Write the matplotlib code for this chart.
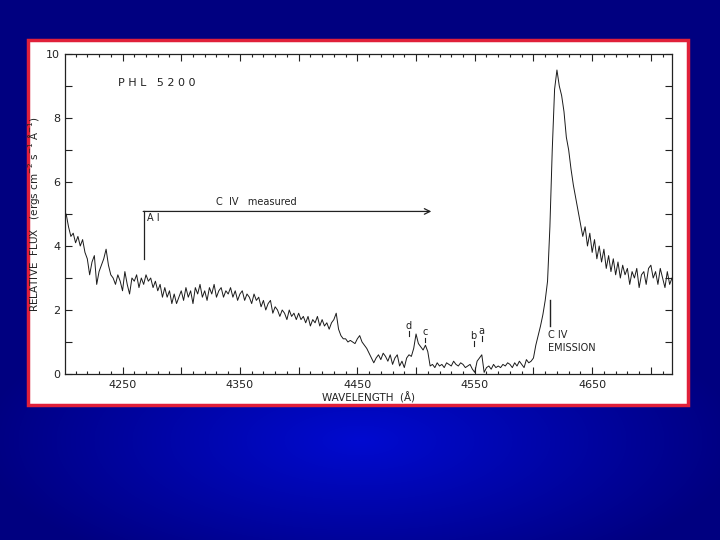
import numpy as np
import matplotlib
matplotlib.use("Agg")
import matplotlib.pyplot as plt
from matplotlib.patches import Rectangle
from matplotlib.ticker import MultipleLocator, FuncFormatter

# ---- data ----
wave_start = 4200
wave_step = 2
flux = [
    4.9, 5.0, 4.6, 4.3, 4.4, 4.1, 4.3, 4.0, 4.2, 3.8,
    3.6, 3.1, 3.5, 3.7, 2.8, 3.2, 3.4, 3.6, 3.9, 3.4,
    3.1, 3.0, 2.8, 3.1, 2.9, 2.6, 3.2, 2.8, 2.5, 3.0,
    2.9, 3.1, 2.7, 3.0, 2.8, 3.1, 2.9, 3.0, 2.7, 2.9,
    2.6, 2.8, 2.4, 2.7, 2.4, 2.6, 2.2, 2.5, 2.2, 2.4,
    2.6, 2.3, 2.7, 2.4, 2.6, 2.2, 2.7, 2.5, 2.8, 2.4,
    2.6, 2.3, 2.7, 2.5, 2.8, 2.4, 2.6, 2.7, 2.4, 2.6,
    2.5, 2.7, 2.4, 2.6, 2.3, 2.5, 2.6, 2.3, 2.5, 2.4,
    2.2, 2.5, 2.3, 2.4, 2.1, 2.3, 2.0, 2.2, 2.3, 1.9,
    2.1, 2.0, 1.8, 2.0, 1.9, 1.7, 2.0, 1.8, 1.9, 1.7,
    1.9, 1.7, 1.8, 1.6, 1.8, 1.5, 1.7, 1.6, 1.8, 1.5,
    1.7, 1.5, 1.6, 1.4, 1.6, 1.7, 1.9, 1.4, 1.2, 1.1,
    1.1, 1.0, 1.05, 1.0, 0.95, 1.1, 1.2, 1.0, 0.9, 0.8,
    0.65, 0.5, 0.35, 0.5, 0.6, 0.45, 0.65, 0.55, 0.4, 0.6,
    0.3, 0.5, 0.6, 0.25, 0.4, 0.2, 0.5, 0.6, 0.55, 0.8,
    1.25, 0.95, 0.85, 0.75, 0.9, 0.7, 0.25, 0.3, 0.2, 0.35,
    0.25, 0.3, 0.2, 0.35, 0.3, 0.25, 0.4, 0.3, 0.25, 0.35,
    0.3, 0.2, 0.25, 0.3, 0.15, 0.05, 0.4, 0.5, 0.6, 0.05,
    0.2, 0.25, 0.15, 0.3, 0.2, 0.25, 0.2, 0.3, 0.25, 0.35,
    0.3, 0.2, 0.35, 0.25, 0.4, 0.3, 0.2, 0.45, 0.35, 0.4,
    0.5, 0.9, 1.2, 1.5, 1.85, 2.3, 2.9, 4.6, 7.0, 8.9,
    9.5, 9.0, 8.7, 8.2, 7.4, 7.0, 6.4, 5.9, 5.5, 5.1,
    4.7, 4.3, 4.6, 4.0, 4.4, 3.8, 4.2, 3.6, 4.0, 3.5,
    3.9, 3.3, 3.7, 3.2, 3.6, 3.1, 3.5, 3.0, 3.4, 3.1,
    3.3, 2.8, 3.2, 3.0, 3.3, 2.7, 3.1, 3.2, 2.8, 3.3,
    3.4, 3.0, 3.2, 2.8, 3.3, 3.0, 2.7, 3.2, 2.8, 3.0,
]
wavelength = wave_start + wave_step * np.arange(len(flux))

line_ids = ["d", "c", "b", "a"]
line_wave = [4494, 4508, 4549, 4556]
line_label_y = [1.5, 1.31, 1.2, 1.35]

# ---- figure ----
fig = plt.figure(figsize=(7.2, 5.4), dpi=100)

# slide background: blue gradient
bg = fig.add_axes([0, 0, 1, 1], zorder=0)
yy, xx = np.mgrid[0:540, 0:720]
r = np.sqrt(((xx - 360) / 380.0) ** 2 + ((yy - 440) / 150.0) ** 2)
t = np.clip(1 - r, 0, 1)
img = np.zeros((540, 720, 3))
img[..., 2] = (128 + 80 * t) / 255.0
img[..., 1] = (0 + 10 * t) / 255.0
bg.imshow(img, aspect="auto", extent=[0, 1, 0, 1], origin="upper")
bg.set_xlim(0, 1)
bg.set_ylim(0, 1)
bg.set_axis_off()

# white panel with red border
panel = Rectangle((28 / 720, 1 - 405 / 540), 660 / 720, 365 / 540,
                  transform=bg.transAxes, facecolor="white",
                  edgecolor="#e0203a", linewidth=2.5, zorder=5)
bg.add_patch(panel)

ax = fig.add_axes([65 / 720, 1 - 374 / 540, 607 / 720, 320 / 540], zorder=2)
ax.set_facecolor("white")
ax.plot(wavelength, flux, color="#1a1a1a", linewidth=0.7)

ax.set_xlim(4201, 4718)
ax.set_ylim(0, 10)

ax.xaxis.set_major_locator(MultipleLocator(50))
ax.xaxis.set_minor_locator(MultipleLocator(10))
ax.xaxis.set_major_formatter(FuncFormatter(
    lambda v, p: f"{int(round(v))}" if int(round(v)) % 100 == 50 else ""))
ax.yaxis.set_major_locator(MultipleLocator(2))
ax.yaxis.set_minor_locator(MultipleLocator(1))
ax.tick_params(axis="both", which="both", direction="in", top=True,
               right=True, labelsize=8, colors="#222222", width=0.8)
ax.tick_params(axis="x", which="major", length=5)
ax.tick_params(axis="x", which="minor", length=2.5)
ax.tick_params(axis="y", which="both", length=5)
ax.tick_params(axis="x", which="major", pad=4)
for s in ax.spines.values():
    s.set_linewidth(0.9)
    s.set_color("#222222")

ax.set_xlabel("WAVELENGTH  (Å)", fontsize=7.5, labelpad=2, color="#222222")
ax.set_ylabel("RELATIVE  FLUX   (ergs cm$^{-2}$ s$^{-1}$ Å$^{-1}$)",
              fontsize=7.5, color="#222222")
ax.yaxis.set_label_coords(-0.038, 0.5)

# annotations
ax.text(4246, 9.1, "P H L   5 2 0 0", fontsize=8, va="center", color="#222222")

ax.plot([4268, 4268], [3.6, 5.08], color="#222222", linewidth=0.9)
ax.annotate("", xy=(4513, 5.08), xytext=(4267.6, 5.08),
            arrowprops=dict(arrowstyle="->", color="#222222", lw=0.9,
                            shrinkA=0, shrinkB=0))
ax.text(4271, 4.88, "A I", fontsize=7, va="center", color="#222222")
ax.text(4330, 5.36, "C  IV   measured", fontsize=7, va="center",
        color="#222222")

for lab, w, ty in zip(line_ids, line_wave, line_label_y):
    ax.text(w, ty, lab, fontsize=7, ha="center", va="center",
            color="#222222")
    ax.plot([w, w], [ty - 0.32, ty - 0.17], color="#222222", linewidth=0.8)

ax.plot([4614, 4614], [1.5, 2.3], color="#222222", linewidth=1.0)
ax.text(4612, 1.22, "C IV", fontsize=7, va="center", color="#222222")
ax.text(4612, 0.82, "EMISSION", fontsize=7, va="center", color="#222222")

fig.savefig("out.png", dpi=100)
